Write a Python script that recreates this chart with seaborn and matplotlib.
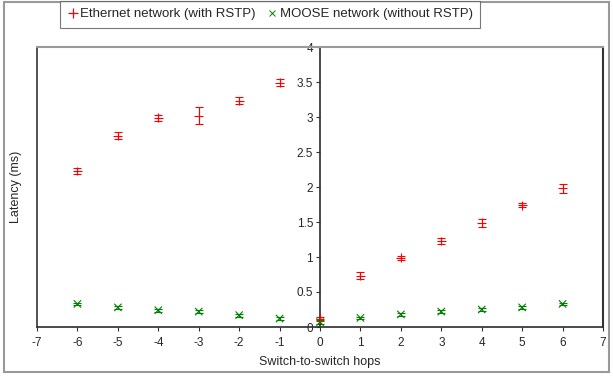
import matplotlib
matplotlib.use("Agg")
import matplotlib.pyplot as plt
import seaborn as sns
import pandas as pd
from matplotlib.patches import Rectangle

sns.set_theme(style="white")
plt.rcParams['font.family'] = ['Liberation Sans', 'DejaVu Sans']
plt.rcParams['axes.unicode_minus'] = False

hops = [-6, -5, -4, -3, -2, -1, 0, 1, 2, 3, 4, 5, 6]
ethernet = [2.23, 2.73, 2.99, 3.02, 3.23, 3.49, 0.12, 0.73, 0.99, 1.23, 1.49, 1.74, 1.98]
ethernet_err = [0.04, 0.05, 0.04, 0.12, 0.05, 0.05, 0.03, 0.05, 0.03, 0.04, 0.06, 0.03, 0.06]
moose = [0.33, 0.28, 0.24, 0.22, 0.17, 0.12, 0.07, 0.13, 0.18, 0.22, 0.25, 0.28, 0.33]
moose_err = [0.02, 0.02, 0.02, 0.02, 0.02, 0.02, 0.03, 0.02, 0.02, 0.02, 0.02, 0.02, 0.02]

ETH = "Ethernet network (with RSTP)"
MOO = "MOOSE network (without RSTP)"
colors = {ETH: "#ff0000", MOO: "#008000"}
marker_sizes = {ETH: 40, MOO: 28}

df = pd.DataFrame({
    "hops": hops * 2,
    "latency": ethernet + moose,
    "err": ethernet_err + moose_err,
    "network": [ETH] * len(hops) + [MOO] * len(hops),
})

fig = plt.figure(figsize=(6.13, 3.78), dpi=100)
ax = fig.add_axes([37 / 613, 1 - 327 / 378, 566 / 613, 280 / 378])

for name, sub in df.groupby("network"):
    ax.errorbar(sub["hops"], sub["latency"], yerr=sub["err"], fmt="none",
                ecolor=colors[name], elinewidth=0.8, capsize=3, capthick=0.8)

sns.scatterplot(data=df, x="hops", y="latency", hue="network", style="network",
                size="network", sizes=marker_sizes,
                markers={ETH: "+", MOO: "x"}, palette=colors,
                linewidth=0.8, ax=ax, legend=False, zorder=3)

ax.set_xlim(-7, 7)
ax.set_ylim(0, 4)
ax.set_xticks(range(-7, 8))
ax.set_yticks([0, 0.5, 1, 1.5, 2, 2.5, 3, 3.5, 4])
ax.set_yticklabels(["0", "0.5", "1", "1.5", "2", "2.5", "3", "3.5", "4"])

# y axis drawn through x = 0
ax.spines['left'].set_position(('data', 0))
ax.spines['left'].set_color("#333333")
ax.spines['bottom'].set_color("#333333")
ax.spines['right'].set_color("#333333")
ax.spines['right'].set_linewidth(1.5)
ax.spines['top'].set_color("#999999")
ax.spines['top'].set_linewidth(1.5)
ax.axvline(-7, color="#333333", linewidth=1.2, clip_on=False)

ax.tick_params(axis='both', which='major', direction='out', length=3, width=0.8,
               labelsize=8.5, color="#333333", pad=2, bottom=True, left=True)
ax.tick_params(axis='x', pad=4)

ax.set_xlabel("Switch-to-switch hops", fontsize=9, labelpad=5)
ax.set_ylabel("Latency (ms)", fontsize=9)
ax.yaxis.set_label_coords(-0.027, 0.5)

handles = [
    plt.Line2D([], [], marker="+", color=colors[ETH], linestyle="none", markersize=7, markeredgewidth=0.9),
    plt.Line2D([], [], marker="x", color=colors[MOO], linestyle="none", markersize=4.5, markeredgewidth=0.7),
]
leg = fig.legend(handles, [ETH, MOO], loc="upper center", bbox_to_anchor=(270 / 613, 1 - 1 / 378),
                 ncol=2, fontsize=9.5, frameon=True, fancybox=False, handlelength=0.8,
                 handletextpad=0.2, columnspacing=0.8, borderpad=0.55, borderaxespad=0)
leg.get_frame().set_edgecolor("#555555")
leg.get_frame().set_linewidth(0.8)

# outer chart frame
fig.patches.append(Rectangle((4 / 613, 6 / 378), 605 / 613, 370 / 378, transform=fig.transFigure,
                             fill=False, edgecolor="#999999", linewidth=1.5, zorder=-1))

fig.savefig("out.png", dpi=100)
